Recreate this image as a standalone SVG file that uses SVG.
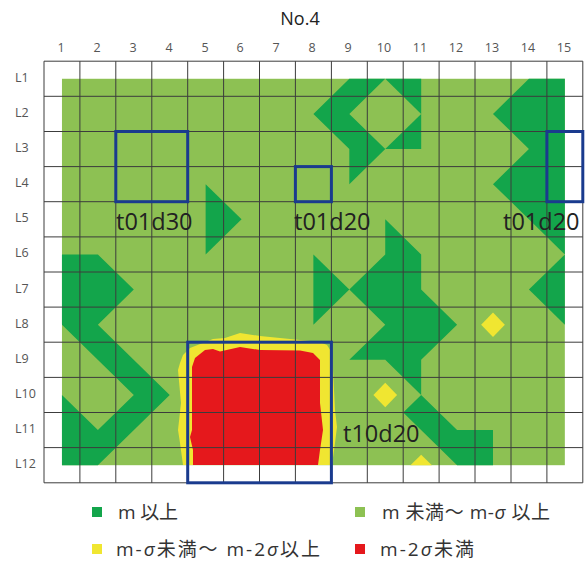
<svg xmlns="http://www.w3.org/2000/svg" width="587" height="566" viewBox="0 0 587 566">
<style>
.dg{fill:#13A54B}
.lg{fill:#8DC153}
.yl{fill:#F0E631}
.rd{fill:#E5181C}
.grid line{stroke:#3c3c3c;stroke-width:1}
.box{fill:none;stroke:#1A3B8E;stroke-width:3}
.ax{font-family:"Open Sans","Noto Sans",sans-serif;font-size:12.5px;fill:#555}
.lbl{font-family:"Open Sans","Noto Sans",sans-serif;font-size:23.5px;fill:#222}
.leg{font-family:"Open Sans","Noto Sans CJK JP",sans-serif;font-size:19px;fill:#333}
.title{font-family:"Open Sans","Noto Sans",sans-serif;font-size:18px;fill:#222}
</style>
<rect width="587" height="566" fill="#fff"/>
<text class="title" x="300" y="25" text-anchor="middle">No.4</text>
<g id="col-labels" class="ax" text-anchor="middle">
<text x="61" y="52">1</text><text x="97" y="52">2</text><text x="133" y="52">3</text><text x="169" y="52">4</text><text x="205" y="52">5</text><text x="240" y="52">6</text><text x="276" y="52">7</text><text x="312" y="52">8</text><text x="348" y="52">9</text><text x="384" y="52">10</text><text x="420" y="52">11</text><text x="456" y="52">12</text><text x="492" y="52">13</text><text x="528" y="52">14</text><text x="564" y="52">15</text>
</g>
<g id="row-labels" class="ax">
<text x="15" y="82">L1</text><text x="15" y="117">L2</text><text x="15" y="152">L3</text><text x="15" y="187">L4</text><text x="15" y="222">L5</text><text x="15" y="257">L6</text><text x="15" y="293">L7</text><text x="15" y="328">L8</text><text x="15" y="363">L9</text><text x="15" y="398">L10</text><text x="15" y="433">L11</text><text x="15" y="468">L12</text>
</g>
<g id="contour" transform="translate(26.04,43.64) scale(35.92,35.13)">
<rect class="lg" x="1" y="1" width="14" height="11"/>
<polygon class="dg" points="5,4 6,5 5,6"/>
<polygon class="dg" points="1,6 2,6 3,7 2,8 4,10 2,12 1,12 1,10 2,11 3,10 1,8"/>
<polygon class="dg" points="8,2 9,1 10,1 9,2 10,3 9,4 9,3"/>
<polygon class="dg" points="10,1 11,1 11,2"/>
<polygon class="dg" points="10,3 11,2 11,3"/>
<polygon class="dg" points="14,1 15,1 15,6 13,4 14,3 13,2"/>
<polygon class="dg" points="8,6 9,7 8,8"/>
<polygon class="dg" points="10,5 11,6 11,7 12,8 11,9 11,10 10,9 9,9 10,8 9,7 10,6"/>
<polygon class="dg" points="11,10 12,11 13,11 13,12 12,12 10.5,10.5"/>
<polygon class="dg" points="15,6 14,7 15,8"/>
<polygon class="yl" points="13,7.65 13.33,8 13,8.35 12.67,8"/>
<polygon class="yl" points="10,9.65 10.33,10 10,10.35 9.67,10"/>
<polygon class="yl" points="11,11.7 11.3,12 10.7,12"/>
</g>
<g id="low-zone">
<polygon class="yl" points="183,465 180,443 178,430 181,403 178,370 180,363 183,355 190,348 213,339 225,338 240,333 260,336 300,340 320,342 327,345 332,353 333,370 335,410 337,427 335,443 332,465"/>
<polygon class="rd" points="193,465 193,450 190,437 192,430 192,367 195,358 205,350 213,349 220,351.5 240,347 260,350 300,350.5 313,353 320,360 320,403 323,430 320,450 318,465"/>
</g>
<g id="grid" class="grid">
<line x1="44" y1="61.2" x2="44" y2="482.8"/><line x1="79.9" y1="61.2" x2="79.9" y2="482.8"/><line x1="115.8" y1="61.2" x2="115.8" y2="482.8"/><line x1="151.8" y1="61.2" x2="151.8" y2="482.8"/><line x1="187.7" y1="61.2" x2="187.7" y2="482.8"/><line x1="223.6" y1="61.2" x2="223.6" y2="482.8"/><line x1="259.5" y1="61.2" x2="259.5" y2="482.8"/><line x1="295.4" y1="61.2" x2="295.4" y2="482.8"/><line x1="331.4" y1="61.2" x2="331.4" y2="482.8"/><line x1="367.3" y1="61.2" x2="367.3" y2="482.8"/><line x1="403.2" y1="61.2" x2="403.2" y2="482.8"/><line x1="439.1" y1="61.2" x2="439.1" y2="482.8"/><line x1="475" y1="61.2" x2="475" y2="482.8"/><line x1="511" y1="61.2" x2="511" y2="482.8"/><line x1="546.9" y1="61.2" x2="546.9" y2="482.8"/><line x1="582.8" y1="61.2" x2="582.8" y2="482.8"/>
<line x1="44" y1="61.2" x2="582.8" y2="61.2"/><line x1="44" y1="96.3" x2="582.8" y2="96.3"/><line x1="44" y1="131.5" x2="582.8" y2="131.5"/><line x1="44" y1="166.6" x2="582.8" y2="166.6"/><line x1="44" y1="201.7" x2="582.8" y2="201.7"/><line x1="44" y1="236.9" x2="582.8" y2="236.9"/><line x1="44" y1="272" x2="582.8" y2="272"/><line x1="44" y1="307.1" x2="582.8" y2="307.1"/><line x1="44" y1="342.2" x2="582.8" y2="342.2"/><line x1="44" y1="377.4" x2="582.8" y2="377.4"/><line x1="44" y1="412.5" x2="582.8" y2="412.5"/><line x1="44" y1="447.6" x2="582.8" y2="447.6"/><line x1="44" y1="482.8" x2="582.8" y2="482.8"/>
</g>
<g id="box-t01d30"><rect class="box" x="115.8" y="131.5" width="71.9" height="70.2"/><text class="lbl" x="116" y="230">t01d30</text></g>
<g id="box-t01d20-a"><rect class="box" x="295.4" y="166.6" width="36" height="35.1"/><text class="lbl" x="294" y="230">t01d20</text></g>
<g id="box-t01d20-b"><rect class="box" x="546.9" y="131.5" width="35.9" height="70.2"/><text class="lbl" x="503" y="230">t01d20</text></g>
<g id="box-t10d20"><rect class="box" x="187.7" y="342.2" width="143.7" height="140.6"/><text class="lbl" x="343" y="442">t10d20</text></g>
<g id="legend" class="leg">
<rect class="dg" x="92" y="507" width="10" height="10"/><text x="118" y="519" textLength="60" lengthAdjust="spacing">m 以上</text>
<rect class="lg" x="355" y="507" width="10" height="10"/><text x="382" y="519" textLength="168" lengthAdjust="spacing">m 未満～ m-<tspan font-style="italic">σ</tspan> 以上</text>
<rect class="yl" x="92" y="544" width="10" height="10"/><text x="116" y="556" textLength="204" lengthAdjust="spacing">m-<tspan font-style="italic">σ</tspan>未満～ m-2<tspan font-style="italic">σ</tspan>以上</text>
<rect class="rd" x="355" y="544" width="10" height="10"/><text x="380" y="556" textLength="94" lengthAdjust="spacing">m-2<tspan font-style="italic">σ</tspan>未満</text>
</g>
</svg>
